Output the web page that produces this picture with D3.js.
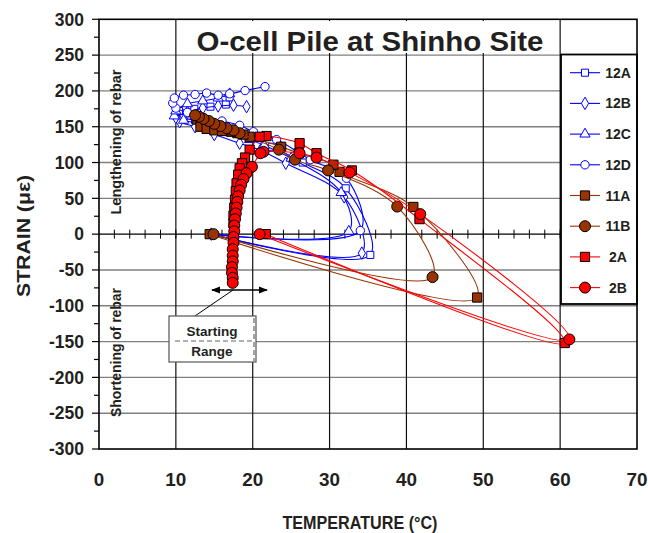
<!DOCTYPE html>
<html>
<head>
<meta charset="utf-8">
<script src="https://cdn.jsdelivr.net/npm/d3@7"></script>
<style>
  body { margin: 0; background: #fff; }
  text { font-family: "Liberation Sans", Arial, sans-serif; font-weight: bold; fill: #231f20; }
</style>
</head>
<body>
<svg width="648" height="533"></svg>
<script>
// axis tick labels
var xTicks = [0, 10, 20, 30, 40, 50, 60, 70];
var yTicks = [300, 250, 200, 150, 100, 50, 0, -50, -100, -150, -200, -250, -300];

// series: [temperature (C), strain (microstrain)]
var s12A = [[14.6, 0], [35.3, -29], [32.1, 64], [26.5, 100], [22.5, 122], [19.8, 134], [17, 147], [14.5, 154], [12.5, 159],
  [11, 162], [10, 166], [10.4, 172], [12.4, 175], [14.5, 178], [16.5, 181], [17, 191]];
var s12B = [[14.6, 0], [34.2, -26.5], [31.9, 52], [24.3, 99], [21, 117], [18.3, 127], [15, 139], [12.5, 150], [10.5, 157],
  [10, 163], [11.5, 170], [13.5, 176], [15.5, 179], [17.5, 180], [19.2, 178]];
var s12C = [[14.6, 0], [32.5, 4], [31.5, 58], [25, 106], [21.5, 124], [19.6, 132], [16.5, 144], [13.5, 154], [11, 159],
  [9.8, 165], [10, 172], [11.5, 182], [13.5, 186], [15.5, 190], [17, 196]];
var s12D = [[14.6, 0], [34, 5], [32.2, 78], [27.5, 104], [23.1, 132], [20.1, 143], [18.3, 152], [16, 158], [13.5, 163],
  [11.5, 170], [10, 176], [9.6, 183], [9.8, 190], [11, 194], [12.5, 195], [14, 197], [15.5, 194], [17, 196],
  [19, 200.5], [21.6, 206]];
var s11A = [[14.4, 0], [49.2, -88.5], [40.9, 38], [31.3, 87], [30.5, 97], [26, 113], [23.7, 122], [19.6, 136], [18.8, 139],
  [18, 141], [17.2, 143], [16.4, 145], [15.6, 148], [14.8, 151], [14.1, 154], [13.4, 157], [12.8, 160], [13.2, 150],
  [14, 147], [15, 145], [16, 144]];
var s11B = [[14.9, 0], [43.4, -60], [38.8, 38.5], [29.8, 89], [25.5, 104], [23.4, 118], [18.3, 141], [17.5, 145],
  [16.6, 148], [15.8, 151], [15, 154], [14.3, 158], [13.6, 161], [13, 164], [12.5, 166]];
var s2A = [[21.7, 0], [60.6, -152], [41.7, 21], [32.9, 89], [28.3, 113], [26.1, 127], [21.8, 137], [20.9, 136],
  [19.6, 118], [19, 107], [18.6, 99], [18.3, 92], [18.1, 83], [17.9, 71], [17.8, 60], [17.7, 48], [17.6, 37],
  [17.5, 26], [17.5, 15]];
var s2B = [[20.9, 0], [61.2, -147], [41.8, 28], [32.6, 86], [28.3, 107], [26.1, 113], [21.4, 115], [21, 113],
  [19.9, 94], [19.2, 85], [18.8, 77], [18.5, 69], [18.3, 61], [18.1, 53], [18, 45], [17.9, 37], [17.8, 29],
  [17.7, 21], [17.6, 12], [17.6, 4], [17.5, -4], [17.5, -12], [17.4, -21], [17.4, -30], [17.4, -38], [17.3, -46],
  [17.3, -54], [17.4, -61], [17.4, -68]];

var names = ["12A", "12B", "12C", "12D", "11A", "11B", "2A", "2B"];
var allData = [s12A, s12B, s12C, s12D, s11A, s11B, s2A, s2B];

// look of each series
var styles = [
  { line: "#0000ff", sym: d3.symbolSquare, size: 50, fill: "#fff", stroke: "#0000ff" },
  { line: "#0000ff", sym: d3.symbolDiamond, size: 45, fill: "#fff", stroke: "#0000ff" },
  { line: "#0000ff", sym: d3.symbolTriangle, size: 45, fill: "#fff", stroke: "#0000ff" },
  { line: "#0000ff", sym: d3.symbolCircle, size: 55, fill: "#fff", stroke: "#0000ff" },
  { line: "#993300", sym: d3.symbolSquare, size: 85, fill: "#993300", stroke: "#000" },
  { line: "#993300", sym: d3.symbolCircle, size: 95, fill: "#993300", stroke: "#000" },
  { line: "#ff0000", sym: d3.symbolSquare, size: 85, fill: "#ff0000", stroke: "#000" },
  { line: "#ff0000", sym: d3.symbolCircle, size: 95, fill: "#ff0000", stroke: "#000" }
];

var svg = d3.select("svg");
var x = d3.scaleLinear().domain([0, 70]).range([99, 637]);
var y = d3.scaleLinear().domain([-300, 300]).range([449, 19.3]);

// grid
svg.append("g").selectAll("line").data(yTicks.filter(function(d) { return d != 0 && Math.abs(d) != 300; }))
  .enter().append("line")
  .attr("x1", x(0)).attr("x2", x(70))
  .attr("y1", function(d) { return y(d); }).attr("y2", function(d) { return y(d); })
  .attr("stroke", "#808080").attr("stroke-width", 1.4);
svg.append("g").selectAll("line").data(xTicks.filter(function(d) { return d > 0 && d < 70; }))
  .enter().append("line")
  .attr("x1", function(d) { return x(d); }).attr("x2", function(d) { return x(d); })
  .attr("y1", y(300)).attr("y2", y(-300))
  .attr("stroke", "#111").attr("stroke-width", 1.2);

// zero line with minor ticks every 2 C
svg.append("line").attr("x1", x(0)).attr("x2", x(70)).attr("y1", y(0)).attr("y2", y(0))
  .attr("stroke", "#000").attr("stroke-width", 1.4);
svg.append("g").selectAll("line").data(d3.range(2, 70, 2)).enter().append("line")
  .attr("x1", function(d) { return x(d); }).attr("x2", function(d) { return x(d); })
  .attr("y1", y(0) - 4.5).attr("y2", y(0) + 4.5)
  .attr("stroke", "#000").attr("stroke-width", 1);

// series
var line = d3.line()
  .x(function(d) { return x(d[0]); })
  .y(function(d) { return y(d[1]); })
  .curve(d3.curveCatmullRom.alpha(0.5));

allData.forEach(function(data, i) {
  var st = styles[i];
  var g = svg.append("g");
  g.append("path").attr("d", line(data))
    .attr("fill", "none").attr("stroke", st.line).attr("stroke-width", 1.1);
  g.selectAll("path.m").data(data).enter().append("path")
    .attr("class", "m")
    .attr("d", d3.symbol().type(st.sym).size(st.size))
    .attr("transform", function(d) { return "translate(" + x(d[0]) + "," + y(d[1]) + ")"; })
    .attr("fill", st.fill).attr("stroke", st.stroke).attr("stroke-width", 1);
});

// title
svg.append("rect").attr("x", 188).attr("y", 21).attr("width", 364).attr("height", 32).attr("fill", "#fff");
svg.append("text").attr("x", 370).attr("y", 51).attr("text-anchor", "middle")
  .style("font-size", "28px").attr("textLength", 347).attr("lengthAdjust", "spacingAndGlyphs")
  .text("O-cell Pile at Shinho Site");

// legend
var lg = svg.append("g");
lg.append("rect").attr("x", 561).attr("y", 54.5).attr("width", 76).attr("height", 249.5)
  .attr("fill", "#fff").attr("stroke", "#000").attr("stroke-width", 1.8);
names.forEach(function(n, i) {
  var st = styles[i], ly = 72.7 + i * 30.7;
  lg.append("line").attr("x1", 570).attr("x2", 600).attr("y1", ly).attr("y2", ly)
    .attr("stroke", st.line).attr("stroke-width", 1.1);
  lg.append("path").attr("d", d3.symbol().type(st.sym).size(st.size))
    .attr("transform", "translate(585," + ly + ")")
    .attr("fill", st.fill).attr("stroke", st.stroke).attr("stroke-width", 1);
  lg.append("text").attr("x", 618).attr("y", ly).attr("dy", "0.36em").attr("text-anchor", "middle")
    .style("font-size", "14px").text(n);
});

// frame and y axis
svg.append("rect").attr("x", x(0)).attr("y", y(300)).attr("width", x(70) - x(0)).attr("height", y(-300) - y(300))
  .attr("fill", "none").attr("stroke", "#000").attr("stroke-width", 1.6);
svg.append("g").selectAll("line").data(d3.range(-300, 301, 25)).enter().append("line")
  .attr("x1", function(d) { return d % 50 == 0 ? x(0) - 7 : x(0) - 5; }).attr("x2", x(0))
  .attr("y1", function(d) { return y(d); }).attr("y2", function(d) { return y(d); })
  .attr("stroke", "#000").attr("stroke-width", 1.2);

svg.append("g").selectAll("text").data(yTicks).enter().append("text")
  .attr("x", 84).attr("y", function(d) { return y(d); }).attr("dy", "0.36em")
  .attr("text-anchor", "end").style("font-size", "17.5px").text(function(d) { return d; });
svg.append("g").selectAll("text").data(xTicks).enter().append("text")
  .attr("x", function(d) { return x(d); }).attr("y", 486)
  .attr("text-anchor", "middle").style("font-size", "19px")
  .attr("textLength", function(d) { return String(d).length * 10.5; })
  .attr("lengthAdjust", "spacingAndGlyphs")
  .text(function(d) { return d; });

// axis titles
svg.append("text").attr("x", 360).attr("y", 529).attr("text-anchor", "middle")
  .style("font-size", "19px").attr("textLength", 155).attr("lengthAdjust", "spacingAndGlyphs")
  .text("TEMPERATURE (°C)");
svg.append("text").attr("transform", "translate(30,236) rotate(-90)").attr("text-anchor", "middle")
  .style("font-size", "19px").attr("textLength", 122).attr("lengthAdjust", "spacingAndGlyphs")
  .text("STRAIN (με)");

// side notes
svg.append("text").attr("transform", "translate(121,142) rotate(-90)").attr("text-anchor", "middle")
  .style("font-size", "14px").attr("textLength", 145).attr("lengthAdjust", "spacingAndGlyphs")
  .text("Lengthening of rebar");
svg.append("text").attr("transform", "translate(121,352.5) rotate(-90)").attr("text-anchor", "middle")
  .style("font-size", "14px").attr("textLength", 129).attr("lengthAdjust", "spacingAndGlyphs")
  .text("Shortening of rebar");

// starting range annotation
svg.append("defs").append("marker").attr("id", "ah").attr("viewBox", "0 0 10 10")
  .attr("refX", 9).attr("refY", 5).attr("markerWidth", 7).attr("markerHeight", 7).attr("orient", "auto-start-reverse")
  .append("path").attr("d", "M0,1L10,5L0,9z").attr("fill", "#000");
svg.append("line").attr("x1", 212).attr("x2", 267).attr("y1", 290).attr("y2", 290)
  .attr("stroke", "#000").attr("stroke-width", 1.3)
  .attr("marker-start", "url(#ah)").attr("marker-end", "url(#ah)");
svg.append("line").attr("x1", 233).attr("y1", 290).attr("x2", 192).attr("y2", 318)
  .attr("stroke", "#000").attr("stroke-width", 1);
svg.append("rect").attr("x", 169).attr("y", 316).attr("width", 87).attr("height", 46)
  .attr("fill", "#fff").attr("stroke", "#555").attr("stroke-width", 1.2);
svg.append("line").attr("x1", 175).attr("x2", 254).attr("y1", 341).attr("y2", 341)
  .attr("stroke", "#666").attr("stroke-width", 1.2).attr("stroke-dasharray", "5,3");
svg.append("line").attr("x1", 254).attr("x2", 254).attr("y1", 318).attr("y2", 361)
  .attr("stroke", "#666").attr("stroke-width", 1.2).attr("stroke-dasharray", "5,3");
svg.append("text").attr("x", 212).attr("y", 336).attr("text-anchor", "middle").style("font-size", "13.5px").text("Starting");
svg.append("text").attr("x", 212).attr("y", 356).attr("text-anchor", "middle").style("font-size", "13.5px").text("Range");
</script>
</body>
</html>
